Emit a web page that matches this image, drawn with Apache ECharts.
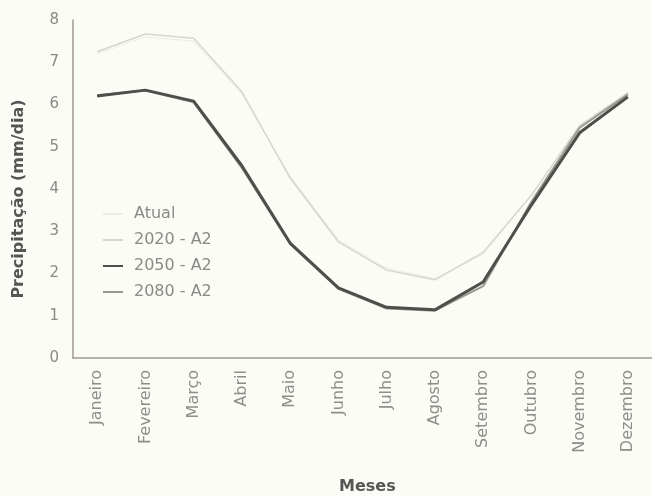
<!DOCTYPE html>
<html>
<head>
<meta charset="utf-8">
<script src="https://cdn.jsdelivr.net/npm/echarts@6/dist/echarts.min.js"></script>
<style>
  html, body { margin: 0; padding: 0; background: #fcfcf6; }
  #chartDiv { width: 652px; height: 496px; }
</style>
</head>
<body>
<div id="chartDiv"></div>
<script>
// dados
var meses = ['Janeiro', 'Fevereiro', 'Março', 'Abril', 'Maio', 'Junho', 'Julho', 'Agosto', 'Setembro', 'Outubro', 'Novembro', 'Dezembro'];
var atual = [7.2, 7.6, 7.5, 6.25, 4.3, 2.8, 2.12, 1.88, 2.45, 3.85, 5.5, 6.3];
var a2_2020 = [7.25, 7.67, 7.57, 6.3, 4.26, 2.75, 2.08, 1.85, 2.5, 3.85, 5.5, 6.27];
var a2_2050 = [6.2, 6.34, 6.08, 4.55, 2.72, 1.66, 1.2, 1.14, 1.8, 3.62, 5.33, 6.18];
var a2_2080 = [6.22, 6.33, 6.05, 4.5, 2.7, 1.64, 1.17, 1.12, 1.7, 3.7, 5.45, 6.24];
var yTicks = [0, 1, 2, 3, 4, 5, 6, 7, 8];

function chartDiv(){
	var option = {
		backgroundColor: '#fcfcf6',
		animation: false,
		title: {
			text: 'Meses',
			left: 334,
			top: 474,
			textStyle: { fontSize: 16, fontWeight: 'bold', color: '#555', fontFamily: 'DejaVu Sans' }
		},
		legend: {
			orient: 'vertical',
			left: 98,
			top: 201,
			itemWidth: 20,
			itemHeight: 14,
			itemGap: 10,
			icon: 'path://M0,6 L20,6 L20,8 L0,8 Z',
			data: ['Atual', '2020 - A2', '2050 - A2', '2080 - A2'],
			textStyle: { fontSize: 16, lineHeight: 14, color: '#8a8a86', fontFamily: 'DejaVu Sans', padding: [0, 0, 0, 6] }
		},
		grid: { left: 73, right: -11, top: 20, bottom: 138 },
		xAxis: {
			type: 'category',
			data: meses,
			boundaryGap: true,
			axisLine: { lineStyle: { color: '#a09a94', width: 1.5 } },
			axisTick: { show: false },
			axisLabel: { rotate: 90, margin: 12, fontSize: 16, color: '#8e8e8a', fontFamily: 'DejaVu Sans', interval: 0 }
		},
		yAxis: {
			type: 'value',
			min: 0,
			max: 8,
			interval: 1,
			splitLine: { show: false },
			axisTick: { show: false },
			axisLine: { show: true, lineStyle: { color: '#a09a94', width: 1.5 } },
			axisLabel: {
				margin: 14, fontSize: 15, color: '#8a8a86', fontFamily: 'DejaVu Sans',
				formatter: function (v) { return yTicks.indexOf(v) >= 0 ? String(v) : ''; }
			},
			name: 'Precipitação (mm/dia)',
			nameLocation: 'middle',
			nameGap: 46,
			nameTextStyle: { fontSize: 16, fontWeight: 'bold', color: '#555', fontFamily: 'DejaVu Sans', padding: [0, 20, 0, 0] }
		},
		series: [
			{ name: 'Atual', type: 'line', data: atual, symbol: 'none', itemStyle: { color: '#ecece4' }, lineStyle: { color: '#ecece4', width: 1 } },
			{ name: '2020 - A2', type: 'line', data: a2_2020, symbol: 'none', itemStyle: { color: '#d6d6ce' }, lineStyle: { color: '#d6d6ce', width: 1.5 } },
			{ name: '2080 - A2', type: 'line', data: a2_2080, symbol: 'none', itemStyle: { color: '#9a9890' }, lineStyle: { color: '#9a9890', width: 2 } },
			{ name: '2050 - A2', type: 'line', data: a2_2050, symbol: 'none', itemStyle: { color: '#4e4e4a' }, lineStyle: { color: '#4e4e4a', width: 3 } }
		]
	};
	var myCharts1 = echarts.init(document.getElementById('chartDiv'));
	myCharts1.setOption(option, true);
}
chartDiv();
</script>
</body>
</html>
